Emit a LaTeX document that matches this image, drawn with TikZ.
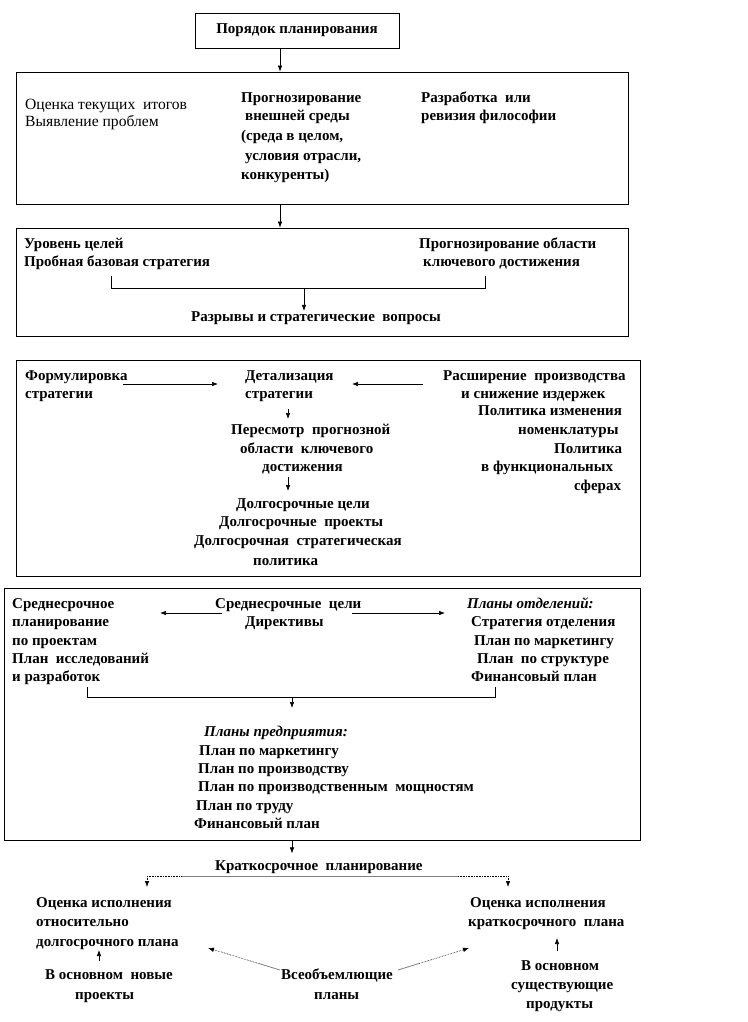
\documentclass[tikz,border=0pt]{standalone}
\usepackage{fontspec}
\setmainfont{Liberation Serif}
\usetikzlibrary{arrows.meta,calc}
\tikzset{
  box/.style={draw, line width=0.8pt, inner sep=0pt},
  tb/.style={font=\fontsize{15}{18}\selectfont\bfseries, inner sep=0pt, anchor=base west},
  tr/.style={font=\fontsize{15.6}{18}\selectfont, inner sep=0pt, anchor=base west},
  ti/.style={font=\fontsize{15}{18}\selectfont\bfseries\itshape, inner sep=0pt, anchor=base west},
  arr/.style={-{Latex[length=6pt,width=4.5pt]}, line width=0.6pt},
  ln/.style={line width=0.6pt},
  dotarr/.style={densely dotted, line width=0.6pt, -{Latex[length=6pt,width=4.5pt]}},
}
\newcommand\T[4][tb]{\node[#1] (#2) at (#3) {#4};}
\begin{document}
\begin{tikzpicture}[x=1pt,y=-1pt]
\fill[white] (0,0) rectangle (747,1022);
\useasboundingbox (0,0) rectangle (747,1022);

% boxes
\node[box, minimum width=204pt, minimum height=35pt, font=\fontsize{15}{18}\selectfont\bfseries] (box1) at (297,30.5) {Порядок планирования};
\node[box, minimum width=612pt, minimum height=132pt] (box2) at (322,138) {};
\node[box, minimum width=612pt, minimum height=108pt] (box3) at (322,282) {};
\node[box, minimum width=624pt, minimum height=216pt] (box4) at (328,468) {};
\node[box, minimum width=636pt, minimum height=252pt] (box5) at (322,714) {};

% box 2
\T[tr]{r1}{25,110}{Оценка текущих\ \ итогов}
\T[tr]{r2}{25,127}{Выявление проблем}
\T{p1}{241,103}{Прогнозирование}
\T{p2}{245,121}{внешней среды}
\T{p3}{241,140}{(среда в целом,}
\T{p4}{245,160}{условия отрасли,}
\T{p5}{241,179}{конкуренты)}
\T{q1}{421,103}{Разработка\ \ или}
\T{q2}{421,121}{ревизия философии}

% box 3
\T{u1}{24,248}{Уровень целей}
\T{u2}{24,266}{Пробная базовая стратегия}
\T{k1}{419,248}{Прогнозирование области}
\T{k2}{423,266}{ключевого достижения}
\T{g1}{191,321}{Разрывы и стратегические\ \ вопросы}

% box 4
\T{f1}{25,380}{Формулировка}
\T{f2}{25,398}{стратегии}
\T{d1}{245,380}{Детализация}
\T{d2}{245,398}{стратегии}
\T{e1}{443,380}{Расширение\ \ производства}
\T{e2}{461,398}{и снижение издержек}
\T{e3}{478,415}{Политика изменения}
\T{e4}{518,434}{номенклатуры}
\T{e5}{554,453}{Политика}
\T{e6}{481,471}{в функциональных}
\T{e7}{574,490}{сферах}
\T{s1}{231,434}{Пересмотр\ \ прогнозной}
\T{s2}{240,453}{области\ \ ключевого}
\T{s3}{262,471}{достижения}
\T{h1}{236,508}{Долгосрочные цели}
\T{h2}{219,526}{Долгосрочные\ \ проекты}
\T{h3}{194,545}{Долгосрочная\ \ стратегическая}
\T{h4}{253,565}{политика}

% box 5
\T{m1}{12,608}{Среднесрочное}
\T{m2}{12,626}{планирование}
\T{m3}{12,645}{по проектам}
\T{m4}{12,663}{План\ \ исследований}
\T{m5}{12,681}{и разработок}
\T{c1}{215,608}{Среднесрочные\ \ цели}
\T{c2}{245,626}{Директивы}
\T[ti]{o1}{467,608}{Планы отделений:}
\T{o2}{471,626}{Стратегия отделения}
\T{o3}{474,645}{План по маркетингу}
\T{o4}{477,663}{План\ \ по структуре}
\T{o5}{471,681}{Финансовый план}
\T[ti]{w1}{204,736}{Планы предприятия:}
\T{w2}{199,755}{План по маркетингу}
\T{w3}{198,773}{План по производству}
\T{w4}{198,791}{План по производственным\ \ мощностям}
\T{w5}{196,810}{План по труду}
\T{w6}{194,828}{Финансовый план}

% bottom
\T{kp}{215,870}{Краткосрочное\ \ планирование}
\T{a1}{36,907}{Оценка исполнения}
\T{a2}{36,926}{относительно}
\T{a3}{36,946}{долгосрочного плана}
\T{n1}{45,979}{В основном\ \ новые}
\T{n2}{75,999}{проекты}
\T{v1}{281,979}{Всеобъемлющие}
\T{v2}{314,999}{планы}
\T{b1}{470,907}{Оценка исполнения}
\T{b2}{468,926}{краткосрочного\ \ плана}
\T{x1}{521,970}{В основном}
\T{x2}{511,989}{существующие}
\T{x3}{526,1008}{продукты}

% coordinates
\coordinate (cA) at (280,0);
\coordinate (cB) at (292,0);
\coordinate (br3a) at (111,276);
\coordinate (br3b) at (485,276);
\coordinate (br3m) at (304,288);
\coordinate (fa) at (123,384);
\coordinate (fb) at (218,384);
\coordinate (ea) at (423,384);
\coordinate (eb) at (352,384);
\coordinate (da) at (288,409);
\coordinate (db) at (288,419);
\coordinate (sa) at (288,477);
\coordinate (sb) at (288,491);
\coordinate (ca) at (222,613);
\coordinate (cb) at (160,613);
\coordinate (cc) at (352,613);
\coordinate (cd) at (445,613);
\coordinate (br5a) at (87,687);
\coordinate (br5b) at (495,687);
\coordinate (br5m) at (292,697);
\coordinate (kpl) at (147,876);
\coordinate (kpg1) at (182,876);
\coordinate (kpg2) at (458,876);
\coordinate (kpr) at (508,876);
\coordinate (kpld) at (147,887);
\coordinate (kprd) at (508,887);
\coordinate (nau) at (99,961);
\coordinate (nat) at (99,950);
\coordinate (xau) at (557,951);
\coordinate (xat) at (557,938);
\coordinate (vl) at (280,970);
\coordinate (vlt) at (208,948);
\coordinate (vr) at (398,970);
\coordinate (vrt) at (469,948);

% connectors
\draw[arr] (cA |- box1.south) -- (cA |- box2.north);
\draw[arr] (cA |- box2.south) -- (cA |- box3.north);
\draw[ln] (br3a) -- (br3a |- br3m) -- (br3b |- br3m) -- (br3b);
\draw[arr] (br3m) -- (br3m |- g1.north);
\draw[arr] (fa) -- (fb);
\draw[arr] (ea) -- (eb);
\draw[arr] (da) -- (db);
\draw[arr] (sa) -- (sb);
\draw[arr] (ca) -- (cb);
\draw[arr] (cc) -- (cd);
\draw[ln] (br5a) -- (br5a |- br5m) -- (br5b |- br5m) -- (br5b);
\draw[arr] (br5m) -- ++(0,11);
\draw[arr] (cB |- box5.south) -- ++(0,13);
\draw[gray, line width=1pt] (kpg1) -- (kpg2);
\draw[densely dotted, line width=0.6pt] (kpl) -- (kpg1) (kpg2) -- (kpr);
\draw[dotarr] (kpl) -- (kpld);
\draw[dotarr] (kpr) -- (kprd);
\draw[arr] (nau) -- (nat);
\draw[arr] (xau) -- (xat);
\draw[gray, line width=0.8pt] (vl) -- ($(vl)!0.3!(vlt)$);
\draw[dotarr] ($(vl)!0.3!(vlt)$) -- (vlt);
\draw[gray, line width=0.8pt] (vr) -- ($(vr)!0.3!(vrt)$);
\draw[dotarr] ($(vr)!0.3!(vrt)$) -- (vrt);
\end{tikzpicture}
\end{document}
